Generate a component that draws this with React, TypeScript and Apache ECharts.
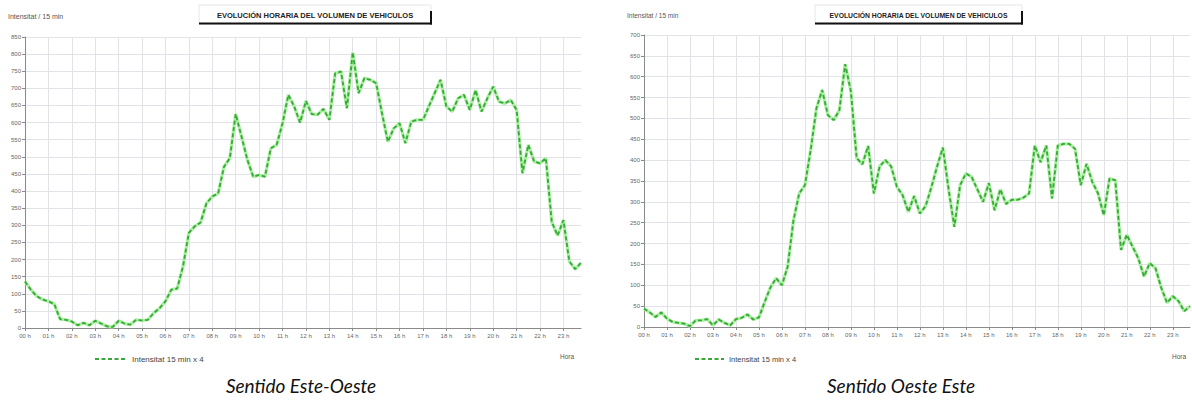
import React, { useEffect, useRef } from "react";
import * as echarts from "echarts";

// 15-minute time categories (00:00 ... 23:45)
const times: string[] = [];
for (let h = 0; h < 24; h++) {
  for (const m of ["00", "15", "30", "45"]) {
    times.push(String(h).padStart(2, "0") + ":" + m);
  }
}

// Sentido Este-Oeste (Intensitat 15 min x 4)
const esteOeste: number[] = [
  136, 112, 93, 83,
  78, 70, 26, 24,
  19, 8, 15, 8,
  21, 13, 5, 3,
  21, 13, 10, 24,
  22, 24, 44, 58,
  78, 112, 115, 180,
  278, 297, 308, 364,
  384, 393, 471, 496,
  625, 559, 491, 442,
  447, 442, 525, 535,
  598, 681, 647, 600,
  663, 625, 623, 640,
  608, 744, 749, 642,
  805, 686, 730, 725,
  715, 627, 544, 583,
  598, 540, 603, 608,
  608, 647, 686, 725,
  647, 632, 671, 681,
  637, 695, 632, 671,
  705, 661, 656, 666,
  637, 452, 535, 486,
  481, 496, 310, 270,
  315, 195, 172, 190,
];

// Sentido Oeste Este (Intensitat 15 min x 4)
const oesteEste: number[] = [
  44, 35, 24, 35,
  20, 12, 10, 8,
  2, 16, 16, 19,
  4, 18, 10, 4,
  19, 22, 30, 18,
  23, 60, 95, 117,
  100, 145, 255, 320,
  340, 424, 524, 568,
  508, 496, 520, 630,
  565, 405, 390, 434,
  320, 385, 400, 385,
  336, 316, 276, 314,
  272, 290, 335, 385,
  430, 330, 240, 340,
  368, 360, 330, 300,
  345, 280, 330, 295,
  305, 305, 310, 320,
  435, 395, 435, 308,
  435, 439, 439, 427,
  340, 391, 348, 320,
  268, 356, 352, 185,
  221, 193, 165, 121,
  153, 141, 94, 58,
  74, 62, 38, 50,
];

const yMaxLeft = 850;
const yMaxRight = 700;
const yStep = 50;

const SERIES_NAME = "Intensitat 15 min x 4";
const TITLE = "EVOLUCIÓN HORARIA DEL VOLUMEN DE VEHICULOS";
const Y_NAME = "Intensitat / 15 min";
const X_NAME = "Hora";
const CAPTION_LEFT = "Sentido Este-Oeste";
const CAPTION_RIGHT = "Sentido Oeste Este";

const FONT = "Liberation Sans, Arial, sans-serif";
const hourTick = (i: number) => i % 4 === 0;

function xAxis(gridIndex: number) {
  return {
    type: "category",
    gridIndex,
    data: times,
    boundaryGap: false,
    axisLine: { lineStyle: { color: "#8a8a8a", width: 1 } },
    axisTick: { show: true, interval: hourTick, length: 3, lineStyle: { color: "#8a8a8a" } },
    axisLabel: {
      interval: hourTick,
      formatter: (v: string) => v.slice(0, 2) + " h",
      fontSize: 6,
      color: "#666",
      margin: 5,
      fontFamily: FONT,
    },
    splitLine: { show: true, interval: hourTick, lineStyle: { color: "#e2e3e8", width: 1 } },
  };
}

function yAxis(gridIndex: number, max: number) {
  return {
    type: "value",
    gridIndex,
    min: 0,
    max,
    interval: yStep,
    axisLine: { show: true, lineStyle: { color: "#8a8a8a", width: 1 } },
    axisTick: { show: true, length: 3, lineStyle: { color: "#8a8a8a" } },
    axisLabel: { fontSize: 6, color: "#666", margin: 4, fontFamily: FONT },
    splitLine: { show: true, lineStyle: { color: "#e2e3e8", width: 1 } },
  };
}

function seriesPair(idx: number, data: number[]) {
  return [
    {
      type: "line",
      xAxisIndex: idx,
      yAxisIndex: idx,
      data,
      symbol: "none",
      silent: true,
      lineStyle: { color: "#a8ef9f", width: 3.2 },
      z: 2,
    },
    {
      type: "line",
      name: SERIES_NAME,
      xAxisIndex: idx,
      yAxisIndex: idx,
      data,
      symbol: "none",
      lineStyle: { color: "#38a838", width: 1.8, type: [4, 2.5] },
      z: 3,
    },
  ];
}

function titleBox(x: number, w: number, fontSize: number) {
  return {
    type: "group",
    children: [
      {
        type: "rect",
        shape: { x, y: 5, width: w, height: 19 },
        style: { fill: "#fff", stroke: "#e6e6e6", lineWidth: 1 },
      },
      {
        type: "line",
        shape: { x1: x, y1: 23.5, x2: x + w + 1, y2: 23.5 },
        style: { stroke: "#111", lineWidth: 2 },
      },
      {
        type: "line",
        shape: { x1: x + w, y1: 11, x2: x + w, y2: 24.5 },
        style: { stroke: "#111", lineWidth: 2 },
      },
      {
        type: "text",
        x: x + w / 2,
        y: 15,
        style: {
          text: TITLE,
          fontSize,
          fontWeight: "bold",
          fontFamily: FONT,
          fill: "#222",
          align: "center",
          verticalAlign: "middle",
        },
      },
    ],
  };
}

function plainText(x: number, y: number, text: string, fontSize: number, fill: string, align = "left") {
  return {
    type: "text",
    x,
    y,
    style: { text, fontSize, fontFamily: FONT, fill, align, verticalAlign: "middle" },
  };
}

function caption(x: number, text: string) {
  return {
    type: "text",
    x,
    y: 385,
    style: {
      text,
      fontSize: 19,
      fontStyle: "italic",
      fontFamily: "Lato, Open Sans, sans-serif",
      fill: "#111",
      align: "center",
      verticalAlign: "middle",
    },
  };
}

export default function App() {
  const ref = useRef<HTMLDivElement>(null);
  useEffect(() => {
    document.body.style.margin = "0";
    const chart = echarts.init(ref.current!, null, { renderer: "svg" });
    chart.setOption({
      animation: false,
      backgroundColor: "#fff",
      grid: [
        { left: 25, top: 37, width: 556, height: 291 },
        { left: 644, top: 35, width: 546, height: 292 },
      ],
      xAxis: [xAxis(0), xAxis(1)],
      yAxis: [yAxis(0, yMaxLeft), yAxis(1, yMaxRight)],
      legend: [
        {
          data: [SERIES_NAME],
          left: 89,
          top: 350,
          itemWidth: 32,
          itemHeight: 8,
          itemGap: 4,
          itemStyle: { opacity: 0 },
          textStyle: { fontSize: 8, color: "#444", fontFamily: FONT },
        },
        {
          data: [SERIES_NAME],
          left: 689,
          top: 350,
          itemWidth: 29,
          itemHeight: 8,
          itemGap: 4,
          itemStyle: { opacity: 0 },
          textStyle: { fontSize: 7.5, color: "#444", fontFamily: FONT },
        },
      ],
      series: [...seriesPair(0, esteOeste), ...seriesPair(1, oesteEste)],
      graphic: [
        titleBox(199, 232, 7.5),
        titleBox(815, 207, 6.8),
        plainText(8, 16, Y_NAME, 7, "#555"),
        plainText(627, 15, Y_NAME, 6.5, "#555"),
        plainText(560, 356, X_NAME, 6.5, "#555"),
        plainText(1172, 356, X_NAME, 6.5, "#555"),
        caption(301, CAPTION_LEFT),
        caption(901, CAPTION_RIGHT),
      ],
    });
    return () => chart.dispose();
  }, []);
  return <div ref={ref} style={{ width: 1192, height: 401 }} />;
}
